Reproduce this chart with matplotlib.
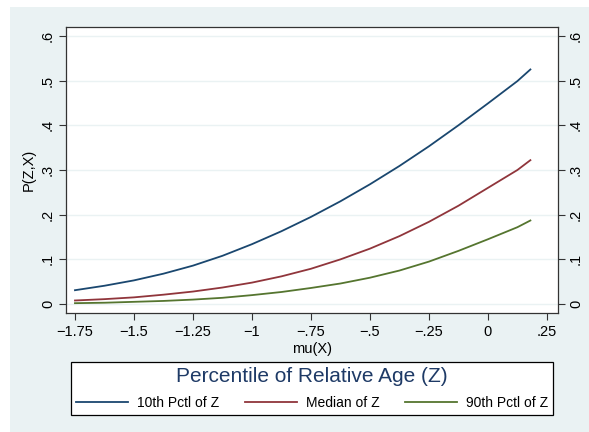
import matplotlib.pyplot as plt
from matplotlib.patches import Rectangle

# mu(X) grid and read-off probabilities
mu_x = [-1.75, -1.625, -1.5, -1.375, -1.25, -1.125, -1.0, -0.875, -0.75,
        -0.625, -0.5, -0.375, -0.25, -0.125, 0.0, 0.125, 0.18]
p10 = [0.031, 0.041, 0.053, 0.068, 0.086, 0.108, 0.134, 0.163, 0.195,
       0.230, 0.268, 0.309, 0.353, 0.400, 0.449, 0.499, 0.525]
p50 = [0.008, 0.011, 0.015, 0.021, 0.028, 0.037, 0.048, 0.062, 0.079,
       0.100, 0.124, 0.152, 0.184, 0.220, 0.260, 0.300, 0.322]
p90 = [0.002, 0.003, 0.005, 0.007, 0.010, 0.014, 0.020, 0.027, 0.036,
       0.046, 0.059, 0.075, 0.095, 0.119, 0.145, 0.172, 0.187]

labels = ["10th Pctl of Z", "Median of Z", "90th Pctl of Z"]
colors = ["#1A476F", "#90353B", "#55752F"]

xticks = [-1.75, -1.5, -1.25, -1, -0.75, -0.5, -0.25, 0, 0.25]
xticklabels = ["\u22121.75", "\u22121.5", "\u22121.25", "\u22121", "\u2212.75",
               "\u2212.5", "\u2212.25", "0", ".25"]
yticks = [0, 0.1, 0.2, 0.3, 0.4, 0.5, 0.6]
yticklabels = ["0", ".1", ".2", ".3", ".4", ".5", ".6"]

plt.rcParams["font.family"] = ["Liberation Sans", "DejaVu Sans"]

W, H = 589, 432
fig = plt.figure(figsize=(W / 100, H / 100), dpi=100)
fig.patch.set_facecolor("white")
bg = Rectangle((10 / W, 0), 1 - 10 / W, 1 - 7 / H, transform=fig.transFigure,
               facecolor="#EAF2F3", edgecolor="none", zorder=-10)
fig.add_artist(bg)

ax = fig.add_axes([66 / W, 1 - 313 / H, (558 - 66) / W, (313 - 27) / H])
ax.set_zorder(1)
ax.set_facecolor("white")

series = [p10, p50, p90]
for vals, lab, col in zip(series, labels, colors):
    ax.plot(mu_x, vals, color=col, linewidth=1.3, label=lab)

ax.set_xlim(-1.788, 0.297)
ax.set_ylim(-0.02, 0.62)
ax.set_xticks(xticks)
ax.set_xticklabels(xticklabels, fontsize=10.5)
ax.set_yticks(yticks)
ax.set_yticklabels(yticklabels, fontsize=10.5)
ax.tick_params(axis="both", direction="out", length=5, width=0.8, color="#333333")
ax.tick_params(axis="y", right=True, labelright=True, pad=3, labelrotation=90)
for lbl in ax.yaxis.get_ticklabels():
    lbl.set_va("center")
ax.grid(axis="y", color="#EAF2F3", linewidth=1.0)
ax.set_axisbelow(True)
for sp in ax.spines.values():
    sp.set_color("#333333")
    sp.set_linewidth(0.9)

ax.set_xlabel("mu(X)", fontsize=10.5, labelpad=2)
ax.set_ylabel("P(Z,X)", fontsize=10.5, labelpad=4)

leg = fig.legend(loc="upper left",
                 bbox_to_anchor=(71 / W, 1 - 416 / H, (553 - 71) / W, (416 - 362) / H),
                 mode="expand", ncol=3, fontsize=10, frameon=True, fancybox=False,
                 framealpha=1, title="Percentile of Relative Age (Z)", handlelength=3.75,
                 borderaxespad=0, borderpad=0.35, handletextpad=0.65,
                 columnspacing=1.5, labelspacing=0.75)
leg.set_zorder(2)
leg.get_title().set_fontsize(15)
leg.get_title().set_color("#1E3A66")
frame = leg.get_frame()
frame.set_edgecolor("black")
frame.set_linewidth(0.9)
frame.set_facecolor("white")

fig.savefig("out.png", dpi=100)
